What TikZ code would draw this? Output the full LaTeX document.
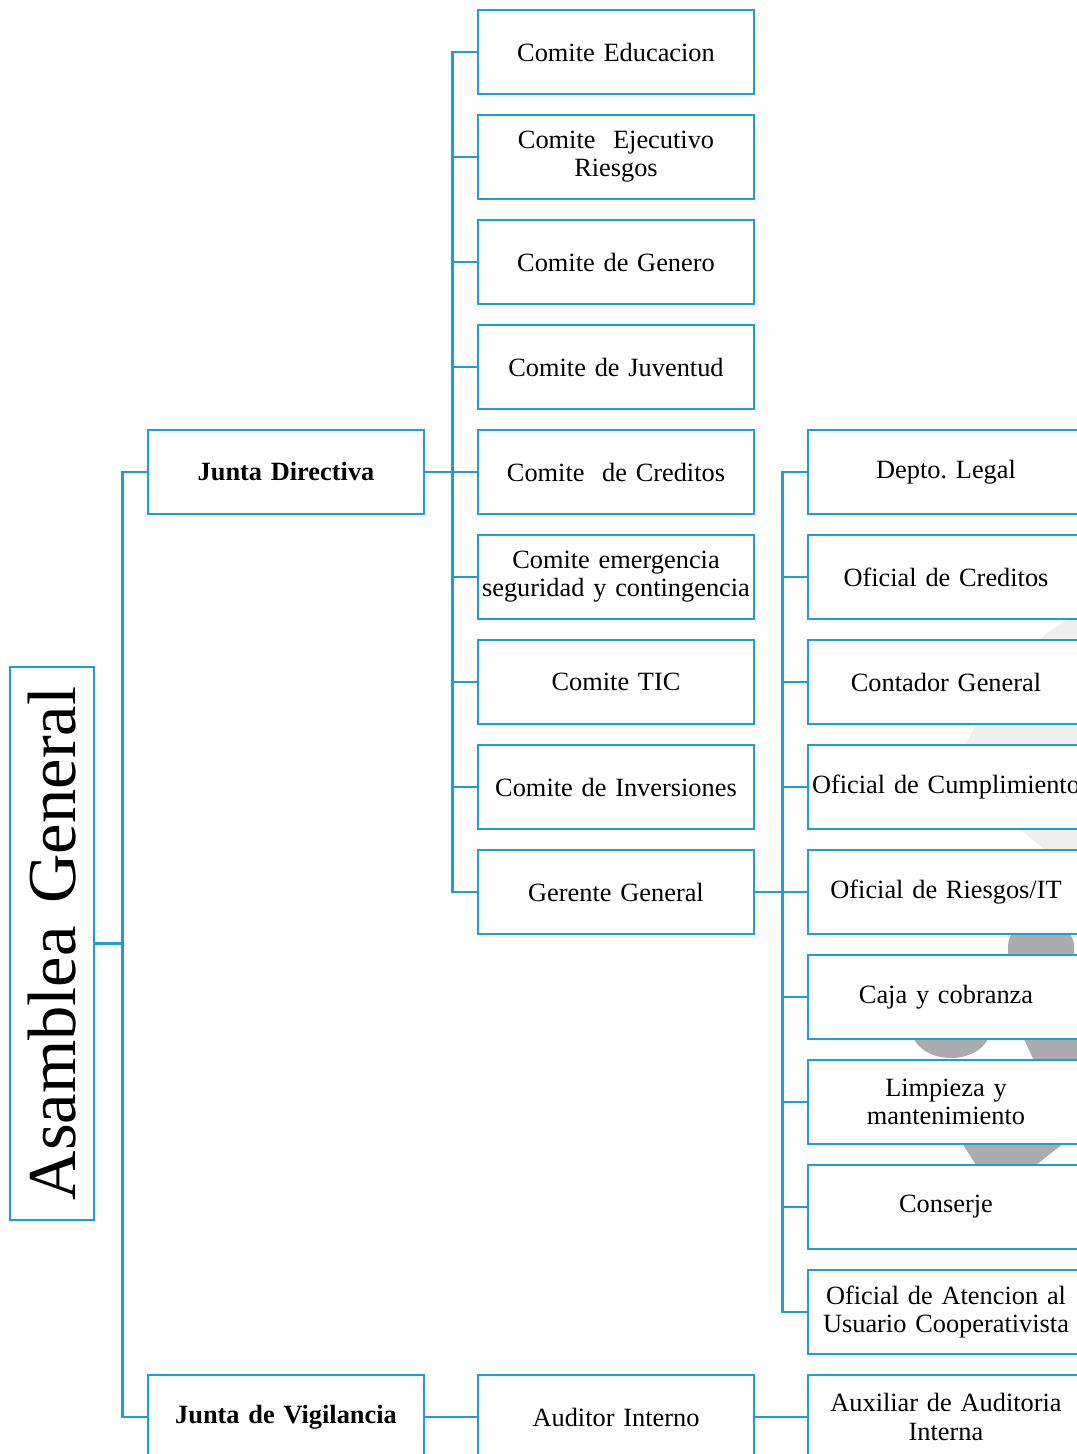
\documentclass[tikz,border=0pt]{standalone}
\usepackage{fontspec}
\setmainfont{Liberation Serif}
\usepackage{xcolor}
\usepackage{tikz}
\usetikzlibrary{positioning}

\definecolor{orgblue}{RGB}{31,157,213}
\definecolor{wmlight}{RGB}{239,239,240}
\definecolor{wmdark}{RGB}{171,172,174}

\begin{document}
\begin{tikzpicture}[x=0.02cm, y={(0,-0.02cm)},
    box/.style={draw=orgblue, line width=1.6pt, fill=white,
      minimum width=5.52cm, minimum height=1.68cm, text width=5.5cm,
      inner xsep=0pt, align=center, font=\fontsize{15}{16}\selectfont\frenchspacing},
    asm/.style={box, rotate=90, minimum width=11.06cm, text width=10.8cm,
      inner ysep=0.2cm, font=\fontsize{39}{44}\selectfont},
    conn/.style={draw=orgblue, line width=1.4pt}]
      \def\colone{286}
      \def\coltwo{616}
      \def\colthree{946}
      \def\rowstep{105}
      \useasboundingbox (0,0) rectangle (1077,1454);

      % logo in the background
      \fill[wmlight] (1100,612) .. controls (1045,612) and (1000,680) .. (965,745)
        .. controls (990,800) and (1025,850) .. (1100,880) -- cycle;
      \fill[wmdark, rounded corners=12] (1008,925) rectangle (1074,975);
      \fill[wmdark] (951,1030) ellipse (39 and 28);
      \fill[wmdark] (1022,1035) -- (1090,1035) -- (1090,1065) -- (1036,1065) -- cycle;
      \fill[wmdark] (960,1140) -- (1068,1140) -- (1032,1168) -- (978,1168) -- cycle;

      \node[asm] (asamblea) at (52,943.5) {Asamblea General};
      \node[box] (jd) at (\colone,472) {\bfseries Junta Directiva};
      \node[box] (jv) at (\colone,1417) {\bfseries Junta de Vigilancia};
      \node[box] (aud) at (\coltwo,1417) {Auditor Interno};
      \node[box] (aux) at (\colthree,1417) {Auxiliar de Auditoria\\Interna};

      \foreach [count=\k from 0] \txt in {Comite Educacion, {Comite\ \ Ejecutivo\\Riesgos},
          Comite de Genero, Comite de Juventud, Comite\ \ de Creditos,
          {Comite emergencia\\seguridad y contingencia}, Comite TIC,
          Comite de Inversiones, Gerente General} {
        \node[box] (c\k) at (\coltwo,{52+\k*\rowstep}) {\txt};
      }
      \foreach [count=\k from 4] \txt in {Depto. Legal, Oficial de Creditos,
          Contador General, Oficial de Cumplimiento, Oficial de Riesgos/IT,
          Caja y cobranza, {Limpieza y\\mantenimiento}, Conserje,
          {Oficial de Atencion al\\Usuario Cooperativista}} {
        \node[box] (d\k) at (\colthree,{52+\k*\rowstep}) {\txt};
      }

      % connectors
      \draw[conn] (asamblea.south) -- ++(27,0) coordinate (bus1);
      \draw[conn] (jd.west) -| (bus1);
      \draw[conn] (jv.west) -| (bus1);
      \draw[conn] (jd.east) -- ++(27,0) coordinate (bus2);
      \foreach \k in {0,...,8}
        \draw[conn] (c\k.west) -| (bus2);
      \draw[conn] (c8.east) -- ++(27,0) coordinate (bus3);
      \foreach \k in {4,...,12}
        \draw[conn] (d\k.west) -| (bus3);
      \draw[conn] (jv.east) -- (aud.west);
      \draw[conn] (aud.east) -- (aux.west);
    \end{tikzpicture}
\end{document}
